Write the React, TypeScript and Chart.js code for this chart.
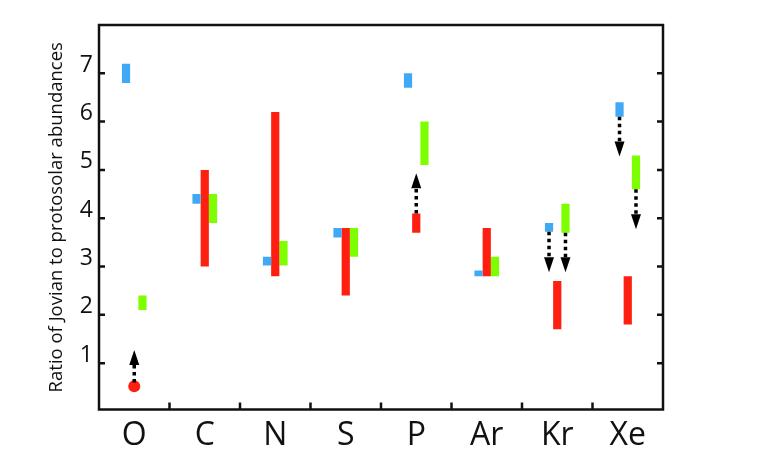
import React, { useEffect, useRef } from 'react';
import { Chart, registerables } from 'chart.js';

Chart.register(...registerables);

const categories = ['O', 'C', 'N', 'S', 'P', 'Ar', 'Kr', 'Xe'];

// Blue series (left bar in each group)
const blueLow = [6.8, 4.3, 3.02, 3.6, 6.7, 2.8, 3.72, 6.1];
const blueHigh = [7.2, 4.5, 3.2, 3.8, 7.0, 2.92, 3.9, 6.4];
// Red series (middle bar)
const redLow: (number | null)[] = [null, 3.0, 2.8, 2.4, 3.7, 2.8, 1.7, 1.8];
const redHigh: (number | null)[] = [null, 5.0, 6.2, 3.8, 4.1, 3.8, 2.7, 2.8];
// Red single-point value (O)
const redPoint: (number | null)[] = [0.52, null, null, null, null, null, null, null];
// Green series (right bar)
const greenLow = [2.1, 3.9, 3.02, 3.2, 5.1, 2.8, 3.7, 4.6];
const greenHigh = [2.4, 4.5, 3.53, 3.8, 6.0, 3.2, 4.3, 5.3];

const yTicks = [1, 2, 3, 4, 5, 6, 7];

// Limit arrows: category, series (0 blue, 1 red, 2 green), from value, to value
const arrowCategory = ['O', 'P', 'Kr', 'Kr', 'Xe', 'Xe'];
const arrowSeries = [1, 1, 0, 2, 0, 2];
const arrowFrom = [0.6, 4.1, 3.72, 3.7, 6.1, 4.6];
const arrowTo = [1.27, 4.93, 2.88, 2.88, 5.28, 3.77];

const BLUE = '#3fa9f5';
const RED = '#ff1f10';
const GREEN = '#7dff00';
const FONT = '"Open Sans", "DejaVu Sans", sans-serif';

const pair = (lo: (number | null)[], hi: (number | null)[]) =>
  lo.map((v, i) => (v === null || hi[i] === null ? null : [v, hi[i] as number]));

const framePlugin = {
  id: 'frame',
  afterDatasetsDraw(chart: any) {
    const { ctx, chartArea, scales } = chart;
    const { left, right, top, bottom } = chartArea;
    const x = scales.x;
    const y = scales.y;
    ctx.save();
    ctx.strokeStyle = '#111';
    ctx.lineWidth = 2.5;
    ctx.strokeRect(left, top, right - left, bottom - top);
    ctx.beginPath();
    yTicks.forEach((v) => {
      const py = y.getPixelForValue(v);
      ctx.moveTo(left, py);
      ctx.lineTo(left + 6, py);
      ctx.moveTo(right, py);
      ctx.lineTo(right - 6, py);
    });
    for (let i = 1; i < categories.length; i++) {
      const px = (x.getPixelForValue(i - 1) + x.getPixelForValue(i)) / 2;
      ctx.moveTo(px, bottom);
      ctx.lineTo(px, bottom - 7);
    }
    ctx.stroke();

    // arrows
    const refMeta = chart.getDatasetMeta(0);
    arrowCategory.forEach((cat, k) => {
      const ci = categories.indexOf(cat);
      const s = arrowSeries[k];
      const el = chart.getDatasetMeta(s).data[ci];
      let px = el && Number.isFinite(el.x) ? el.x : NaN;
      if (!Number.isFinite(px)) {
        const w = refMeta.data[ci] ? refMeta.data[ci].width : 8;
        px = x.getPixelForValue(ci) + (s - 1) * w;
      }
      const y0 = y.getPixelForValue(arrowFrom[k]);
      const yTip = y.getPixelForValue(arrowTo[k]);
      const dir = Math.sign(yTip - y0);
      const headH = 15;
      const headW = 10;
      const yBase = yTip - dir * headH;
      ctx.save();
      ctx.strokeStyle = '#000';
      ctx.lineWidth = 3.5;
      ctx.setLineDash([3.5, 3.5]);
      ctx.beginPath();
      ctx.moveTo(px, y0);
      ctx.lineTo(px, yBase);
      ctx.stroke();
      ctx.setLineDash([]);
      ctx.fillStyle = '#000';
      ctx.beginPath();
      ctx.moveTo(px, yTip);
      ctx.lineTo(px - headW / 2, yBase);
      ctx.lineTo(px + headW / 2, yBase);
      ctx.closePath();
      ctx.fill();
      ctx.restore();
    });
    ctx.restore();
  },
};

export default function App() {
  const ref = useRef<HTMLCanvasElement | null>(null);
  useEffect(() => {
    if (!ref.current) return;
    const barCommon = {
      type: 'bar' as const,
      categoryPercentage: 0.35,
      barPercentage: 1.0,
      borderWidth: 0,
      borderSkipped: false,
    };
    const chart = new Chart(ref.current, {
      type: 'bar',
      data: {
        labels: categories,
        datasets: [
          { ...barCommon, label: 'blue', data: pair(blueLow, blueHigh) as any, backgroundColor: BLUE },
          { ...barCommon, label: 'red', data: pair(redLow, redHigh) as any, backgroundColor: RED },
          { ...barCommon, label: 'green', data: pair(greenLow, greenHigh) as any, backgroundColor: GREEN },
          {
            type: 'line' as const,
            label: 'redPoint',
            data: redPoint as any,
            showLine: false,
            pointRadius: 6,
            pointHoverRadius: 6,
            pointBackgroundColor: RED,
            pointBorderWidth: 0,
            borderColor: RED,
          } as any,
        ],
      },
      options: {
        animation: false,
        responsive: false,
        maintainAspectRatio: false,
        layout: { padding: { left: 0, top: 25, right: 100, bottom: 0 } },
        plugins: { legend: { display: false }, tooltip: { enabled: false } },
        scales: {
          x: {
            grid: { display: false, drawTicks: false },
            border: { display: false },
            ticks: {
              color: '#111',
              font: { family: FONT, size: 32 },
              padding: 7,
              maxRotation: 0,
              autoSkip: false,
            },
            afterFit: (scale: any) => {
              scale.height = 50.5;
            },
          },
          y: {
            min: 0.04,
            max: 8,
            grid: { display: false, drawTicks: false },
            border: { display: false },
            afterBuildTicks: (scale: any) => {
              scale.ticks = yTicks.map((v) => ({ value: v }));
            },
            ticks: {
              color: '#111',
              font: { family: FONT, size: 23 },
              padding: 6,
              labelOffset: -8,
            },
            title: {
              display: true,
              text: 'Ratio of Jovian to protosolar abundances',
              color: '#111',
              font: { family: FONT, size: 18.5 },
              padding: { top: 46, bottom: 0 },
            },
            afterFit: (scale: any) => {
              scale.width = 99;
            },
          },
        },
      },
      plugins: [framePlugin],
    });
    return () => chart.destroy();
  }, []);
  return (
    <div style={{ position: 'absolute', left: 0, top: 0, width: 763, height: 460, background: '#fff' }}>
      <canvas ref={ref} width={763} height={460} style={{ width: 763, height: 460 }} />
    </div>
  );
}
